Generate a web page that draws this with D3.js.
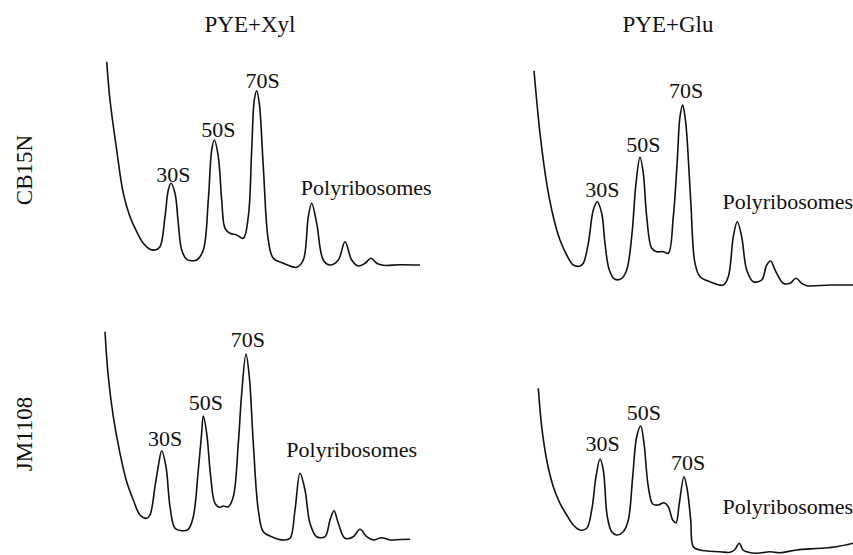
<!DOCTYPE html>
<html>
<head>
<meta charset="utf-8">
<script src="https://cdn.jsdelivr.net/npm/d3@7"></script>
<style>
  html, body { margin: 0; padding: 0; background: #fff; }
  svg { display: block; }
</style>
</head>
<body>
<svg id="chart" width="853" height="555"></svg>
<script>
// ---- Data (arbitrary units: x = position in gradient, y = relative A254) ----
const media = ["PYE+Xyl", "PYE+Glu"];
const strains = ["CB15N", "JM1108"];

const traceCB15N_Xyl = [
  [6.7,208.3],[10,170],[16.7,120],[23.3,76.7],[30,53.3],[36.7,38.3],[43.3,26.7],[50,20.7],[55,20],
  [60,23.3],[65,53.3],[68.3,80],[71,86.7],[75,76.7],[78.3,46.7],[81.7,20],[86.7,10.7],[96.7,10],
  [103.3,20],[108.3,70],[111.7,120],[114.3,130],[118.3,113.3],[121.7,70],[125,41.7],[130,36.7],
  [136.7,35],[143.3,31.7],[148.3,53.3],[151.7,120],[154.3,170],[156.7,179.3],[159.3,166.7],
  [163.3,103.3],[168.3,30],[173.3,11.7],[183.3,6.7],[196.7,2.7],[203.3,10],[208.3,53.3],
  [211.7,66.7],[216.7,46.7],[223.3,10],[230,5],[238.3,10],[245,28.3],[251.7,10],[258.3,4],
  [265,6.7],[271,11.7],[276.7,6.7],[283.3,4.7],[300,5.3],[320,5]
];
const traceCB15N_Glu = [
  [4,219.3],[10,156.7],[16.7,106.7],[23.3,73.3],[30,50],[36.7,35],[43.3,25],[50,24],[53.3,26.7],
  [58.3,46.7],[63.3,80],[67.3,88.3],[71.7,76.7],[75,46.7],[79.3,20],[85,10.7],[91.7,11.7],
  [96.7,20],[101.7,53.3],[106,106.7],[110,132.7],[113.3,116.7],[116.7,73.3],[121.7,41.7],
  [126.7,38.3],[133.3,38.3],[138.3,36.7],[143.3,73.3],[147.3,130],[150,173.3],[152.7,185],
  [155,173.3],[156.7,156.7],[160.7,90],[165,26.7],[170,13.3],[180,8.3],[193.3,5],[198.3,13.3],
  [203.3,53.3],[207.3,68.3],[211.7,53.3],[216.7,20],[223.3,8.3],[231.7,10],[236.7,25],
  [240.7,29],[245,20],[253.3,6.7],[260,6.7],[266,11.7],[271.7,6.7],[276.7,4.3],[300,5],[323,5]
];
const traceJM1108_Xyl = [
  [5,213.3],[8.3,168.3],[13.3,128.3],[20,91.7],[26.7,63.3],[33.3,45],[40,30],[46.7,26.7],[50,30],
  [55,58.3],[58.5,80],[61.7,94.3],[66,78.3],[70,38.3],[75,16.7],[81.7,14.3],[88.3,15.7],
  [93.3,28.3],[98.3,75],[101.5,110],[103.3,129],[106.7,111.7],[110.7,68.3],[115,41.7],[120,37.7],
  [123.3,39],[128.3,38.3],[133.3,48.3],[138.3,101.7],[141.7,151.7],[146,191],[149.3,168.3],
  [153.3,101.7],[158.3,35],[163.3,13.3],[171.7,8.3],[183.3,5],[190,6.7],[195,35],[200,71.7],
  [205,55],[210,21.7],[216.7,8.3],[225,8.3],[230,25],[234,34.3],[238.3,21.7],[245,6.7],
  [253.3,8.3],[260,15.7],[266.7,8.3],[273.3,5],[281.7,7.3],[290,5],[300,5.5],[310,5.7]
];
const traceJM1108_Glu = [
  [8.3,166.7],[11.7,128.3],[16.7,95],[23.3,68.3],[30,51.7],[36.7,40],[43.3,30],[50,25],[56.7,26.7],
  [61.7,45],[66,78.3],[70,96],[73.3,85],[77.3,38.3],[81.7,23.3],[86.7,20],[93.3,23.3],[98.3,35],
  [102.7,78.3],[106.7,118.3],[110.7,129],[114,111.7],[118.3,68.3],[122.7,51],[128.3,50],
  [134,52.3],[138.3,48.3],[142.7,35],[146,32.3],[149.3,51.7],[154,78.3],[157.3,65],[160.7,35],
  [163.3,8.3],[170,5],[190,3.3],[200,2.7],[204.5,5],[209.3,11.7],[213,5],[216.7,3.3],
  [226.7,1.7],[240,3.3],[250,2.3],[266.7,5],[290,6.7],[306.7,8.3],[323,11.7]
];

const peakNames = ["30S", "50S", "70S", "Polyribosomes"];
// label anchors in data units, one array per panel, same order as peakNames
const labelsCB15N_Xyl = [[73.3,88.3],[118.3,133],[162.5,182],[266.2,75]];
const labelsCB15N_Glu = [[72.3,93.3],[113.3,138.3],[156,192],[257.8,80.7]];
const labelsJM1108_Xyl = [[65,99],[105.8,135],[147.8,197.7],[251.7,88.3]];
const labelsJM1108_Glu = [[72.5,104.3],[113.8,135],[158,85],[257.8,40.7]];

// ---- Layout ----
const FONT = "'Liberation Serif', 'Times New Roman', Times, 'DejaVu Serif', serif";
const svg = d3.select("#chart").attr("font-family", FONT);
const W = 330, H = 220;
const x = d3.scaleLinear().domain([0, 330]).range([0, W]);
const y = d3.scaleLinear().domain([0, 220]).range([H, 0]);

const panels = [
  { trace: traceCB15N_Xyl, labels: labelsCB15N_Xyl, ox: 100, oy: 270 },
  { trace: traceCB15N_Glu, labels: labelsCB15N_Glu, ox: 530, oy: 290 },
  { trace: traceJM1108_Xyl, labels: labelsJM1108_Xyl, ox: 100, oy: 545 },
  { trace: traceJM1108_Glu, labels: labelsJM1108_Glu, ox: 530, oy: 555 }
];

const line = d3.line()
  .x(d => x(d[0]))
  .y(d => y(d[1]))
  .curve(d3.curveCatmullRom.alpha(0.5));

panels.forEach(p => {
  const g = svg.append("g").attr("transform", `translate(${p.ox},${p.oy - H})`);
  g.append("path")
    .datum(p.trace)
    .attr("d", line)
    .attr("fill", "none")
    .attr("stroke", "#111")
    .attr("stroke-width", 1.6)
    .attr("stroke-linejoin", "round");
  g.selectAll("text.peak")
    .data(p.labels)
    .join("text")
    .attr("class", "peak")
    .attr("x", d => x(d[0]))
    .attr("y", d => y(d[1]))
    .attr("text-anchor", "middle")
    .attr("font-family", FONT)
    .attr("font-size", 22)
    .attr("fill", "#111")
    .text((d, i) => peakNames[i]);
});

// column titles
const colCenters = [250, 668];
svg.selectAll("text.title")
  .data(media)
  .join("text")
  .attr("class", "title")
  .attr("x", (d, i) => colCenters[i])
  .attr("y", 32)
  .attr("text-anchor", "middle")
  .attr("font-family", FONT)
  .attr("font-size", 23)
  .attr("fill", "#111")
  .text(d => d);

// row labels
const rowCenters = [170, 434];
svg.selectAll("text.row")
  .data(strains)
  .join("text")
  .attr("class", "row")
  .attr("transform", (d, i) => `translate(32,${rowCenters[i]}) rotate(-90)`)
  .attr("text-anchor", "middle")
  .attr("font-family", FONT)
  .attr("font-size", 23)
  .attr("fill", "#111")
  .text(d => d);
</script>
</body>
</html>
